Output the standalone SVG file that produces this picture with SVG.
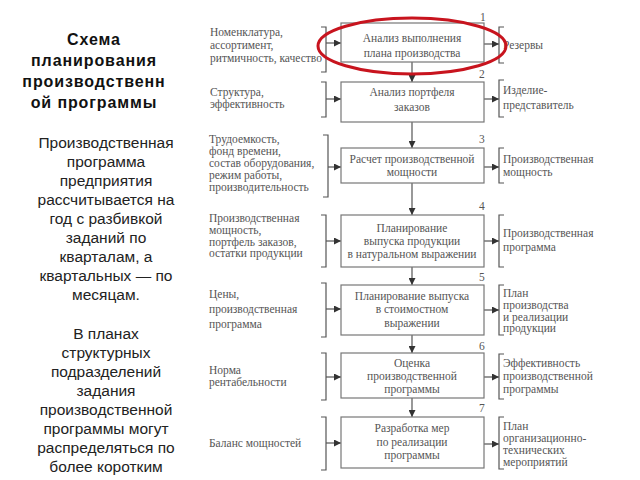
<svg xmlns="http://www.w3.org/2000/svg" width="640" height="480" viewBox="0 0 640 480">
<defs>
<marker id="ah" viewBox="0 0 8 8" refX="8" refY="4" markerWidth="7" markerHeight="7" markerUnits="userSpaceOnUse" orient="auto"><path d="M0,0 L8,4 L0,8 z" fill="#333"/></marker>
<style>
.title{font-family:"Liberation Sans",Arial,sans-serif;font-size:16px;font-weight:bold;fill:#111;text-anchor:middle;letter-spacing:0.9px}
.para{font-family:"Liberation Sans",Arial,sans-serif;font-size:15.5px;fill:#222;text-anchor:middle}
.t{font-family:"Liberation Serif","Times New Roman",serif;font-size:11.5px;fill:#555}
.c{text-anchor:middle}
.box{fill:#fff;stroke:#777;stroke-width:1.2}
.br{fill:none;stroke:#555;stroke-width:1.2}
.ln{fill:none;stroke:#444;stroke-width:1.1;marker-end:url(#ah)}
</style>
</defs>
<rect width="640" height="480" fill="#fff"/>

<g id="title">
<text class="title" x="94" y="45">Схема</text>
<text class="title" x="94" y="66">планирования</text>
<text class="title" x="94" y="87">производственн</text>
<text class="title" x="94" y="108">ой программы</text>
</g>
<g id="paragraph1">
<text class="para" x="106" y="148">Производственная</text>
<text class="para" x="106" y="167">программа</text>
<text class="para" x="106" y="186">предприятия</text>
<text class="para" x="106" y="205">рассчитывается на</text>
<text class="para" x="106" y="224">год с разбивкой</text>
<text class="para" x="106" y="243">заданий по</text>
<text class="para" x="106" y="262">кварталам, а</text>
<text class="para" x="106" y="281">квартальных — по</text>
<text class="para" x="106" y="300">месяцам.</text>
</g>
<g id="paragraph2">
<text class="para" x="106" y="339">В планах</text>
<text class="para" x="106" y="358">структурных</text>
<text class="para" x="106" y="377">подразделений</text>
<text class="para" x="106" y="396">задания</text>
<text class="para" x="106" y="415">производственной</text>
<text class="para" x="106" y="434">программы могут</text>
<text class="para" x="106" y="453">распределяться по</text>
<text class="para" x="106" y="472">более коротким</text>
</g>

<g id="connectors">
<path class="ln" d="M412,62 V82"/>
<path class="ln" d="M412,122 V148"/>
<path class="ln" d="M412,183 V215"/>
<path class="ln" d="M412,267 V285"/>
<path class="ln" d="M412,335 V353"/>
<path class="ln" d="M412,398 V417"/>
<path class="ln" d="M326,43 H341"/>
<path class="ln" d="M326,99 H341"/>
<path class="ln" d="M328,167 H341"/>
<path class="ln" d="M326,241 H341"/>
<path class="ln" d="M326,309 H341"/>
<path class="ln" d="M326,377 H341"/>
<path class="ln" d="M326,443 H341"/>
<path class="ln" d="M484,44 H499"/>
<path class="ln" d="M484,99 H499"/>
<path class="ln" d="M484,167 H499"/>
<path class="ln" d="M484,241 H499"/>
<path class="ln" d="M484,310 H499"/>
<path class="ln" d="M484,377 H499"/>
<path class="ln" d="M484,444 H499"/>
</g>

<g id="step1">
<path class="br" d="M321,27 H326 V72 H321"/>
<text class="t" x="210" y="36">Номенклатура,</text>
<text class="t" x="210" y="49">ассортимент,</text>
<text class="t" x="210" y="62">ритмичность, качество</text>
<rect class="box" x="341" y="23" width="143" height="39"/>
<text class="t c" x="412" y="42">Анализ выполнения</text>
<text class="t c" x="412" y="57">плана производства</text>
<text class="t" x="480" y="21">1</text>
<path class="br" d="M504,27 H499 V63 H504"/>
<text class="t" x="503" y="49">Резервы</text>
</g>
<g id="step2">
<path class="br" d="M321,82 H326 V117 H321"/>
<text class="t" x="210" y="96">Структура,</text>
<text class="t" x="210" y="108">эффективность</text>
<rect class="box" x="341" y="82" width="143" height="40"/>
<text class="t c" x="412" y="96">Анализ портфеля</text>
<text class="t c" x="412" y="111">заказов</text>
<text class="t" x="479" y="78">2</text>
<path class="br" d="M504,80 H499 V117 H504"/>
<text class="t" x="503" y="94">Изделие-</text>
<text class="t" x="503" y="109">представитель</text>
</g>
<g id="step3">
<path class="br" d="M323,135 H328 V197 H323"/>
<text class="t" x="209" y="143">Трудоемкость,</text>
<text class="t" x="209" y="155">фонд времени,</text>
<text class="t" x="209" y="167">состав оборудования,</text>
<text class="t" x="209" y="179">режим работы,</text>
<text class="t" x="209" y="191">производительность</text>
<rect class="box" x="341" y="148" width="143" height="35"/>
<text class="t c" x="412" y="163">Расчет производственной</text>
<text class="t c" x="412" y="176">мощности</text>
<text class="t" x="479" y="143">3</text>
<path class="br" d="M504,148 H499 V183 H504"/>
<text class="t" x="503" y="163">Производственная</text>
<text class="t" x="503" y="176">мощность</text>
</g>
<g id="step4">
<path class="br" d="M321,215 H326 V267 H321"/>
<text class="t" x="209" y="222">Производственная</text>
<text class="t" x="209" y="234">мощность,</text>
<text class="t" x="209" y="246">портфель заказов,</text>
<text class="t" x="209" y="257">остатки продукции</text>
<rect class="box" x="341" y="215" width="143" height="52"/>
<text class="t c" x="412" y="232">Планирование</text>
<text class="t c" x="412" y="245">выпуска продукции</text>
<text class="t c" x="412" y="258">в натуральном выражении</text>
<text class="t" x="479" y="210">4</text>
<path class="br" d="M504,215 H499 V267 H504"/>
<text class="t" x="503" y="237">Производственная</text>
<text class="t" x="503" y="251">программа</text>
</g>
<g id="step5">
<path class="br" d="M321,283 H326 V337 H321"/>
<text class="t" x="209" y="298">Цены,</text>
<text class="t" x="209" y="313">производственная</text>
<text class="t" x="209" y="328">программа</text>
<rect class="box" x="341" y="285" width="143" height="50"/>
<text class="t c" x="412" y="300">Планирование выпуска</text>
<text class="t c" x="412" y="313">в стоимостном</text>
<text class="t c" x="412" y="327">выражении</text>
<text class="t" x="479" y="281">5</text>
<path class="br" d="M504,285 H499 V335 H504"/>
<text class="t" x="503" y="297">План</text>
<text class="t" x="503" y="309">производства</text>
<text class="t" x="503" y="321">и реализации</text>
<text class="t" x="503" y="332">продукции</text>
</g>
<g id="step6">
<path class="br" d="M321,353 H326 V400 H321"/>
<text class="t" x="209" y="374">Норма</text>
<text class="t" x="209" y="386">рентабельности</text>
<rect class="box" x="341" y="353" width="143" height="45"/>
<text class="t c" x="412" y="367">Оценка</text>
<text class="t c" x="412" y="380">производственной</text>
<text class="t c" x="412" y="393">программы</text>
<text class="t" x="479" y="350">6</text>
<path class="br" d="M504,354 H499 V399 H504"/>
<text class="t" x="503" y="367">Эффективность</text>
<text class="t" x="503" y="380">производственной</text>
<text class="t" x="503" y="393">программы</text>
</g>
<g id="step7">
<path class="br" d="M321,417 H326 V470 H321"/>
<text class="t" x="209" y="447">Баланс мощностей</text>
<rect class="box" x="341" y="417" width="143" height="51"/>
<text class="t c" x="412" y="432">Разработка мер</text>
<text class="t c" x="412" y="446">по реализации</text>
<text class="t c" x="412" y="459">программы</text>
<text class="t" x="479" y="412">7</text>
<path class="br" d="M504,417 H499 V469 H504"/>
<text class="t" x="503" y="430">План</text>
<text class="t" x="503" y="442">организационно-</text>
<text class="t" x="503" y="454">технических</text>
<text class="t" x="503" y="466">мероприятий</text>
</g>

<g id="highlight">
<ellipse cx="412" cy="46" rx="94" ry="28" fill="none" stroke="#c8141e" stroke-width="3"/>
</g>
</svg>
